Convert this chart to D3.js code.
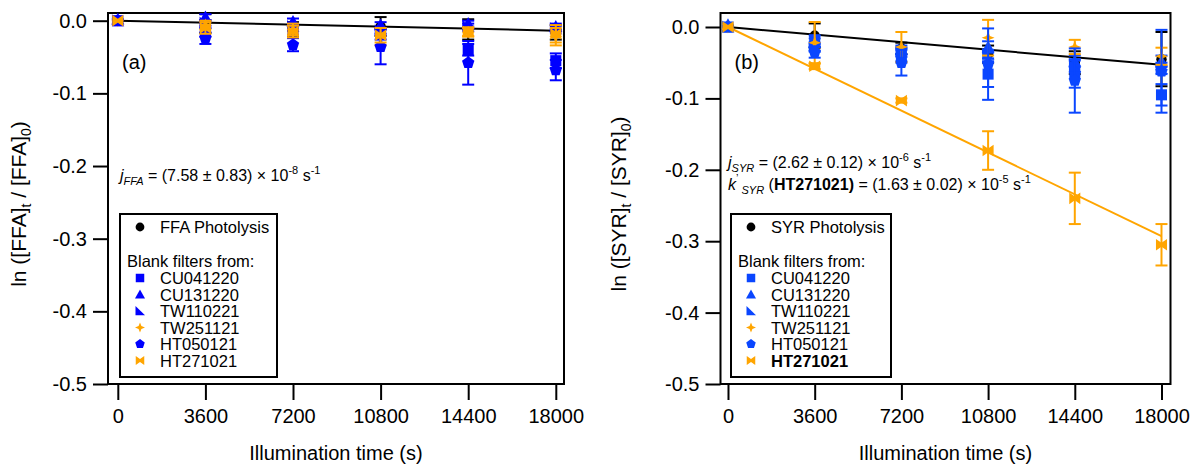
<!DOCTYPE html>
<html>
<head>
<meta charset="utf-8">
<script src="https://cdn.jsdelivr.net/npm/d3@7"></script>
<style>
  body { margin: 0; background: #fff; }
  text { font-family: "Liberation Sans", Arial, Helvetica, sans-serif; fill: #000; }
</style>
</head>
<body>
<div id="chart"></div>
<script>
// ---- data ----
const times = [0, 3600, 7200, 10800, 14400, 18000];
const xTicks = [0, 3600, 7200, 10800, 14400, 18000];
const yTicks = [0, -0.1, -0.2, -0.3, -0.4, -0.5];
const yTickLabels = ['0.0', '-0.1', '-0.2', '-0.3', '-0.4', '-0.5'];
const filterNames = ['CU041220', 'CU131220', 'TW110221', 'TW251121', 'HT050121', 'HT271021'];

// (a) FFA
const ffaPhoto      = [0, -0.004, -0.012, -0.008, -0.012, -0.016];
const ffaPhotoErr   = [0.001, 0.013, 0.010, 0.013, 0.014, 0.010];
const ffaCU041220   = [0, -0.016, -0.014, -0.018, -0.040, -0.055];
const ffaCU041220e  = [0.002, 0.006, 0.006, 0.008, 0.008, 0.010];
const ffaCU131220   = [0.002, 0.005, -0.001, -0.006, -0.004, -0.008];
const ffaCU131220e  = [0.002, 0.004, 0.004, 0.004, 0.004, 0.004];
const ffaTW110221   = [0, -0.003, -0.008, -0.014, -0.008, -0.011];
const ffaTW110221e  = [0.002, 0.004, 0.004, 0.004, 0.004, 0.004];
const ffaTW251121   = [0, -0.006, -0.012, -0.022, -0.016, -0.022];
const ffaTW251121e  = [0.002, 0.006, 0.008, 0.012, 0.006, 0.012];
const ffaHT050121   = [0, -0.024, -0.033, -0.036, -0.058, -0.068];
const ffaHT050121e  = [0.002, 0.008, 0.009, 0.024, 0.030, 0.014];
const ffaHT271021   = [0, -0.010, -0.015, -0.020, -0.015, -0.018];
const ffaHT271021e  = [0.002, 0.008, 0.008, 0.010, 0.006, 0.012];
const ffaFitEnd     = -0.0137;

// (b) SYR
const syrPhoto      = [0, -0.012, -0.030, -0.038, -0.050, -0.045];
const syrPhotoErr   = [0.001, 0.017, 0.008, 0.012, 0.016, 0.038];
const syrCU041220   = [0, -0.018, -0.040, -0.066, -0.065, -0.095];
const syrCU041220e  = [0.002, 0.006, 0.010, 0.018, 0.020, 0.015];
const syrCU131220   = [0.003, -0.022, -0.032, -0.028, -0.048, -0.048];
const syrCU131220e  = [0.002, 0.006, 0.006, 0.008, 0.008, 0.008];
const syrTW110221   = [0, -0.028, -0.035, -0.038, -0.055, -0.058];
const syrTW110221e  = [0.002, 0.006, 0.006, 0.006, 0.008, 0.008];
const syrTW251121   = [0, -0.022, -0.028, -0.015, -0.028, -0.041];
const syrTW251121e  = [0.003, 0.029, 0.021, 0.025, 0.010, 0.012];
const syrHT050121   = [0, -0.035, -0.050, -0.052, -0.075, -0.062];
const syrHT050121e  = [0.002, 0.008, 0.018, 0.050, 0.045, 0.058];
const syrHT271021   = [0, -0.055, -0.103, -0.173, -0.240, -0.305];
const syrHT271021e  = [0.002, 0.004, 0.003, 0.027, 0.036, 0.029];
const syrFitEnd     = -0.053;
const ht27FitEnd    = -0.293;

const orange = '#ffa500';
const blueA = '#0000ff';
const blueB = '#0a46ff';

// ---- marker shapes (radius r) ----
const shapes = {
  circle: r => { const p = d3.path(); p.arc(0, 0, r * 0.8, 0, 2 * Math.PI); return p.toString(); },
  square: r => { const s = r * 0.85; return `M${-s},${-s}H${s}V${s}H${-s}Z`; },
  triangle: r => `M0,${-r}L${r},${0.8 * r}L${-r},${0.8 * r}Z`,
  rtri: r => `M${-r * 0.9},${-r}L${-r * 0.9},${r * 0.85}L${r},${r * 0.85}Z`,
  star: r => { const q = r * 0.28; return `M0,${-r}L${q},${-q}L${r},0L${q},${q}L0,${r}L${-q},${q}L${-r},0L${-q},${-q}Z`; },
  pentagon: r => d3.range(5).map(k => {
      const a = -Math.PI / 2 + k * 2 * Math.PI / 5;
      return (k ? 'L' : 'M') + (r * Math.cos(a)).toFixed(2) + ',' + (r * Math.sin(a)).toFixed(2);
    }).join('') + 'Z',
  bowtie: r => `M${-r * 0.85},${-r * 0.9}L0,${-r * 0.3}L${r * 0.85},${-r * 0.9}L${r * 0.85},${r * 0.9}L0,${r * 0.3}L${-r * 0.85},${r * 0.9}Z`
};

const svg = d3.select('#chart').append('svg')
  .attr('width', 1192)
  .attr('height', 464);

const plotPanel = (cfg) => {
  const x = d3.scaleLinear().domain(cfg.xDomain).range([cfg.left, cfg.right]);
  const y = d3.scaleLinear().domain(cfg.yDomain).range([13, 384]);
  const g = svg.append('g');

  // y axis
  g.append('g')
    .attr('transform', `translate(${cfg.left},0)`)
    .call(d3.axisLeft(y).tickValues(yTicks).tickSize(15).tickPadding(6)
      .tickFormat((d, i) => yTickLabels[i]))
    .call(a => a.select('.domain').remove())
    .call(a => a.selectAll('line').attr('stroke-width', 2))
    .call(a => a.selectAll('text').attr('font-size', 20).attr('font-family', null));

  // x axis
  g.append('g')
    .attr('transform', 'translate(0,384)')
    .call(d3.axisBottom(x).tickValues(xTicks).tickSize(16).tickPadding(9).tickFormat(d3.format('d')))
    .call(a => a.select('.domain').remove())
    .call(a => a.selectAll('line').attr('stroke-width', 2))
    .call(a => a.selectAll('text').attr('font-size', 20).attr('font-family', null));

  // frame
  g.append('rect')
    .attr('x', cfg.left).attr('y', 13)
    .attr('width', cfg.right - cfg.left).attr('height', 371)
    .attr('fill', 'none').attr('stroke', '#000').attr('stroke-width', 2);

  // axis titles
  g.append('text')
    .attr('x', (cfg.left + cfg.right) / 2).attr('y', 460)
    .attr('text-anchor', 'middle').attr('font-size', 20)
    .text('Illumination time (s)');

  const yl = g.append('text')
    .attr('transform', `translate(${cfg.yLabelX},204) rotate(-90)`)
    .attr('text-anchor', 'middle').attr('font-size', 21);
  yl.append('tspan').text(`ln ([${cfg.species}]`);
  yl.append('tspan').attr('dy', 5).attr('font-size', 14).text('t');
  yl.append('tspan').attr('dy', -5).text(` / [${cfg.species}]`);
  yl.append('tspan').attr('dy', 5).attr('font-size', 14).text('0');
  yl.append('tspan').attr('dy', -5).text(')');

  // panel label
  g.append('text')
    .attr('x', cfg.left + 14).attr('y', 69)
    .attr('font-size', 20).text(cfg.panel);

  // fit lines
  const line = d3.line().x(d => x(d[0])).y(d => y(d[1]));
  cfg.fits.forEach(f => {
    g.append('path')
      .attr('d', line([[0, 0], [18000, f.end]]))
      .attr('fill', 'none').attr('stroke', f.color).attr('stroke-width', 2);
  });

  // error bars + markers
  cfg.series.forEach(s => {
    const pts = times.map((t, i) => ({ t, v: s.vals[i], e: s.errs[i] }));
    const sg = g.append('g');
    pts.forEach(p => {
      const cx = x(p.t);
      if (y(p.v - p.e) - y(p.v + p.e) > 3) {
        sg.append('line')
          .attr('x1', cx).attr('x2', cx)
          .attr('y1', y(p.v + p.e)).attr('y2', y(p.v - p.e))
          .attr('stroke', s.color).attr('stroke-width', 2);
        [p.v + p.e, p.v - p.e].forEach(v => {
          sg.append('line')
            .attr('x1', cx - 6).attr('x2', cx + 6)
            .attr('y1', y(v)).attr('y2', y(v))
            .attr('stroke', s.color).attr('stroke-width', 2);
        });
      }
    });
    sg.selectAll('path.mk')
      .data(pts)
      .enter()
        .append('path')
        .attr('class', 'mk')
        .attr('transform', d => `translate(${x(d.t)},${y(d.v)})`)
        .attr('d', shapes[s.shape](6.5))
        .attr('fill', s.color);
  });

  // legend
  const lg = g.append('g').attr('transform', `translate(${cfg.legendX},214)`);
  lg.append('rect')
    .attr('width', cfg.legendW).attr('height', 163)
    .attr('fill', '#fff').attr('stroke', '#000').attr('stroke-width', 2);
  lg.append('path')
    .attr('transform', 'translate(20,13)')
    .attr('d', shapes.circle(5.5)).attr('fill', '#000');
  lg.append('text').attr('x', 40).attr('y', 19).attr('font-size', 16.5)
    .text(`${cfg.species} Photolysis`);
  lg.append('text').attr('x', 7).attr('y', 53).attr('font-size', 16.5)
    .text('Blank filters from:');
  cfg.series.slice(1).forEach((s, i) => {
    const yy = 64 + i * 16.5;
    lg.append('path')
      .attr('transform', `translate(20,${yy})`)
      .attr('d', shapes[s.shape](5)).attr('fill', s.color);
    lg.append('text').attr('x', 40).attr('y', yy + 6).attr('font-size', 16.5)
      .attr('font-weight', cfg.boldLast && i === 5 ? 'bold' : null)
      .text(filterNames[i]);
  });

  return g;
};

// panel (a)
const gA = plotPanel({
  panel: '(a)', species: 'FFA',
  left: 108, right: 564, xDomain: [-403, 18337], yDomain: [0.0106, -0.5],
  yLabelX: 26, legendX: 120, legendW: 157, boldLast: false,
  fits: [{ end: ffaFitEnd, color: '#000' }],
  series: [
    { shape: 'circle', color: '#000', vals: ffaPhoto, errs: ffaPhotoErr },
    { shape: 'square', color: blueA, vals: ffaCU041220, errs: ffaCU041220e },
    { shape: 'triangle', color: blueA, vals: ffaCU131220, errs: ffaCU131220e },
    { shape: 'rtri', color: blueA, vals: ffaTW110221, errs: ffaTW110221e },
    { shape: 'star', color: orange, vals: ffaTW251121, errs: ffaTW251121e },
    { shape: 'pentagon', color: blueA, vals: ffaHT050121, errs: ffaHT050121e },
    { shape: 'bowtie', color: orange, vals: ffaHT271021, errs: ffaHT271021e }
  ]
});

const annA = gA.append('text').attr('x', 120).attr('y', 181).attr('font-size', 16);
annA.append('tspan').attr('font-style', 'italic').text('j');
annA.append('tspan').attr('font-style', 'italic').attr('font-size', 11).attr('dy', 4).text('FFA');
annA.append('tspan').attr('dy', -4).text(' = (7.58 \u00b1 0.83) \u00d7 10');
annA.append('tspan').attr('font-size', 11).attr('dy', -7).text('-8');
annA.append('tspan').attr('dy', 7).text(' s');
annA.append('tspan').attr('font-size', 11).attr('dy', -7).text('-1');

// panel (b)
const gB = plotPanel({
  panel: '(b)', species: 'SYR',
  left: 720.5, right: 1170.5, xDomain: [-311, 18374], yDomain: [0.0196, -0.5],
  yLabelX: 626, legendX: 731, legendW: 160, boldLast: true,
  fits: [{ end: syrFitEnd, color: '#000' }, { end: ht27FitEnd, color: orange }],
  series: [
    { shape: 'circle', color: '#000', vals: syrPhoto, errs: syrPhotoErr },
    { shape: 'square', color: blueB, vals: syrCU041220, errs: syrCU041220e },
    { shape: 'triangle', color: blueB, vals: syrCU131220, errs: syrCU131220e },
    { shape: 'rtri', color: blueB, vals: syrTW110221, errs: syrTW110221e },
    { shape: 'star', color: orange, vals: syrTW251121, errs: syrTW251121e },
    { shape: 'pentagon', color: blueB, vals: syrHT050121, errs: syrHT050121e },
    { shape: 'bowtie', color: orange, vals: syrHT271021, errs: syrHT271021e }
  ]
});

const annB1 = gB.append('text').attr('x', 728).attr('y', 168).attr('font-size', 16);
annB1.append('tspan').attr('font-style', 'italic').text('j');
annB1.append('tspan').attr('font-style', 'italic').attr('font-size', 11).attr('dy', 4).text('SYR');
annB1.append('tspan').attr('dy', -4).text(' = (2.62 \u00b1 0.12) \u00d7 10');
annB1.append('tspan').attr('font-size', 11).attr('dy', -7).text('-6');
annB1.append('tspan').attr('dy', 7).text(' s');
annB1.append('tspan').attr('font-size', 11).attr('dy', -7).text('-1');

const annB2 = gB.append('text').attr('x', 728).attr('y', 190).attr('font-size', 16);
annB2.append('tspan').attr('font-style', 'italic').text('k');
annB2.append('tspan').attr('font-size', 11).attr('dy', -8).text('\u2019');
annB2.append('tspan').attr('font-style', 'italic').attr('font-size', 11).attr('dy', 12).text(' SYR');
annB2.append('tspan').attr('dy', -4).text(' (');
annB2.append('tspan').attr('font-weight', 'bold').text('HT271021)');
annB2.append('tspan').text(' = (1.63 \u00b1 0.02) \u00d7 10');
annB2.append('tspan').attr('font-size', 11).attr('dy', -7).text('-5');
annB2.append('tspan').attr('dy', 7).text(' s');
annB2.append('tspan').attr('font-size', 11).attr('dy', -7).text('-1');
</script>
</body>
</html>
